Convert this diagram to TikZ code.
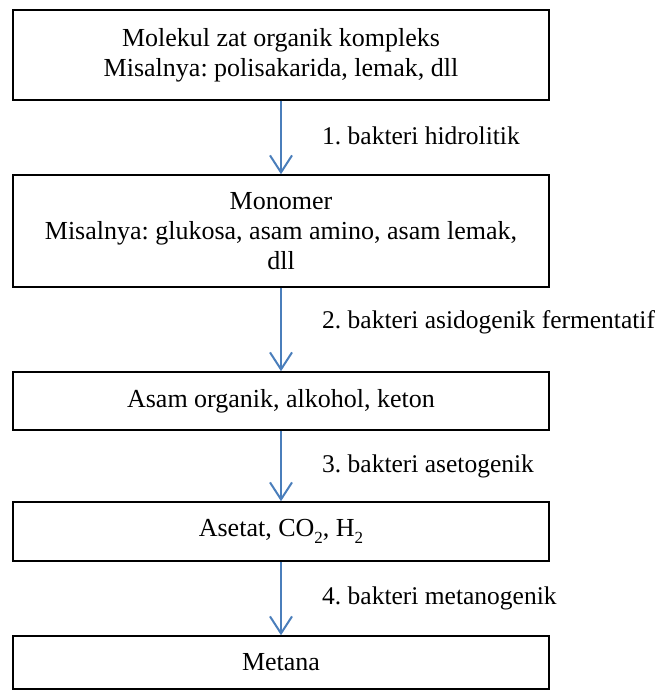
\documentclass[tikz,border=0pt]{standalone}
\usepackage{fontspec}
\setmainfont{Liberation Serif}
\usetikzlibrary{arrows.meta}
\definecolor{flowblue}{RGB}{74,126,187}
\frenchspacing
% lowered small index for chemical formulas
\newcommand{\chemsub}[1]{\raisebox{-0.28em}{\fontsize{17}{17}\selectfont #1}}
\begin{document}
\begin{tikzpicture}[x=1pt,y=-1pt,
  stagebox/.style={draw=black, line width=1.5pt, minimum width=536pt, align=center,
    inner sep=0pt, font=\fontsize{26}{30}\selectfont},
  flow/.style={draw=flowblue, line width=2pt,
    -{Straight Barb[length=17pt, width=22pt, line width=2pt]}},
  steplabel/.style={anchor=west, inner sep=0pt, font=\fontsize{25.5}{29.5}\selectfont}]
  \useasboundingbox (0,0) rectangle (666,690);

  % process stages
  \node[stagebox, minimum height=90pt] (b1) at (281,55)
    {Molekul zat organik kompleks\\Misalnya: polisakarida, lemak, dll};
  \node[stagebox, minimum height=112pt] (b2) at (281,231)
    {Monomer\\Misalnya: glukosa, asam amino, asam lemak,\\dll};
  \node[stagebox, minimum height=58pt] (b3) at (281,401)
    {Asam organik, alkohol, keton};
  \node[stagebox, minimum height=59pt] (b4) at (281,531.5)
    {Asetat, CO\chemsub{2}, H\chemsub{2}};
  \node[stagebox, minimum height=53pt] (b5) at (281,662.5)
    {Metana};

  % transitions
  \draw[flow] (b1.south) -- (b2.north);
  \draw[flow] (b2.south) -- (b3.north);
  \draw[flow] (b3.south) -- (b4.north);
  \draw[flow] (b4.south) -- (b5.north);

  % bacteria responsible for each step
  \node[steplabel] (l1) at (322,136) {1. bakteri hidrolitik};
  \node[steplabel] (l2) at (322,322) {2. bakteri asidogenik fermentatif};
  \node[steplabel] (l3) at (322,466) {3. bakteri asetogenik};
  \node[steplabel] (l4) at (322,598) {4. bakteri metanogenik};
\end{tikzpicture}
\end{document}
